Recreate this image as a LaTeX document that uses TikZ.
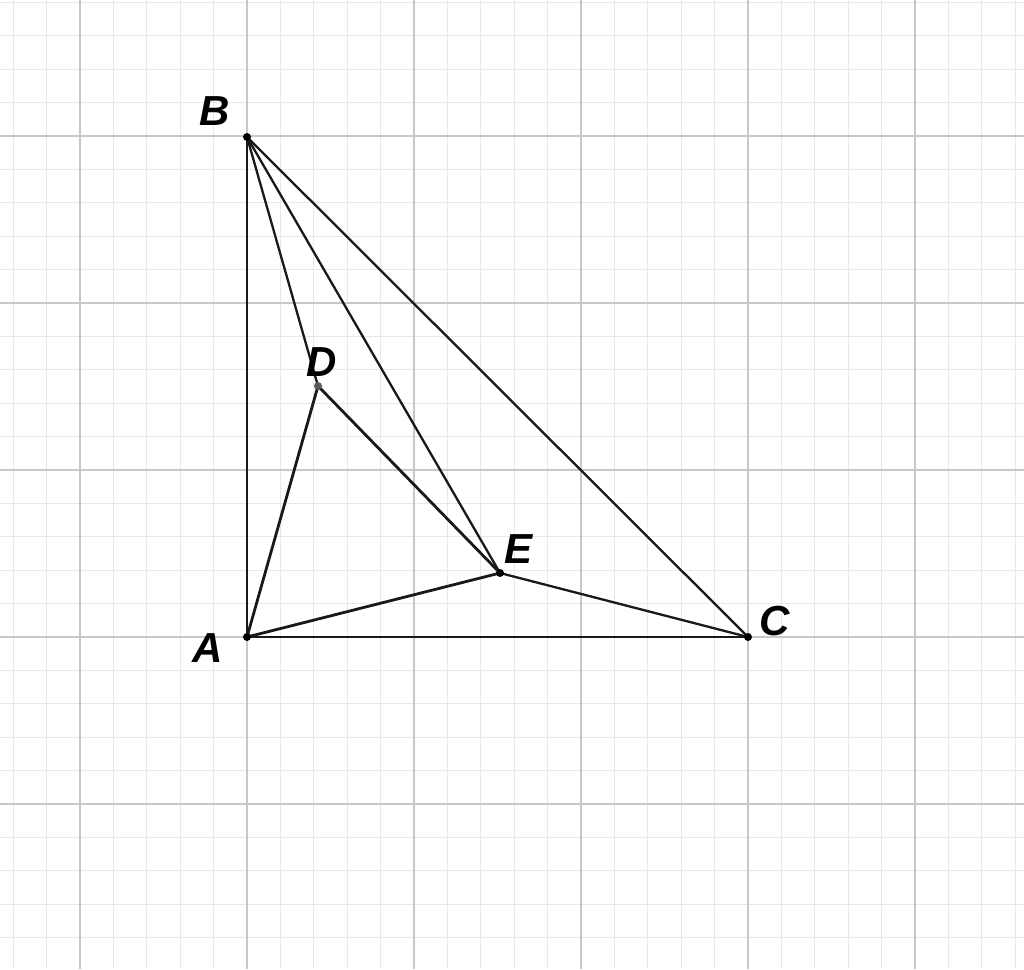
\documentclass[tikz,border=0pt]{standalone}
\usepackage{fontspec}
\setmainfont{Liberation Sans}
\begin{document}
\begin{tikzpicture}[x=1pt,y=-1pt,
  minorline/.style={draw={rgb,255:red,232;green,232;blue,232},line width=1.2pt},
  majorline/.style={draw={rgb,255:red,200;green,200;blue,200},line width=1.8pt},
  seg/.style={draw=black!90,line width=2.3pt},
  segthick/.style={draw=black!90,line width=2.8pt},
  pt/.style={circle,fill=black,inner sep=0pt,minimum size=8pt},
  lbl/.style={font=\fontsize{42}{50}\selectfont\bfseries\itshape,inner sep=0pt}]
\useasboundingbox (0,0) rectangle (1024,969);
\fill[white] (0,0) rectangle (1024,969);
% minor grid
\foreach \k in {-7,...,23} {\draw[minorline] ({247+33.4*\k},0) -- ({247+33.4*\k},969);}
\foreach \k in {-9,...,19} {\draw[minorline] (0,{637-33.4*\k}) -- (1024,{637-33.4*\k});}
% major grid
\foreach \k in {-1,0,1,2,3,4} {\draw[majorline] ({247+167*\k},0) -- ({247+167*\k},969);}
\foreach \k in {-1,0,1,2,3} {\draw[majorline] (0,{637-167*\k}) -- (1024,{637-167*\k});}
% points
\coordinate (A) at (247,637);
\coordinate (B) at (247,137);
\coordinate (C) at (748,637);
\coordinate (D) at (318,386);
\coordinate (E) at (500,573);
% segments
\draw[seg] (A) -- (B);
\draw[seg] (A) -- (C);
\draw[seg] (B) -- (C);
\draw[seg] (B) -- (D);
\draw[seg] (B) -- (E);
\draw[seg] (E) -- (C);
\draw[segthick] (A) -- (D);
\draw[segthick] (D) -- (E);
\draw[segthick] (A) -- (E);
% dots
\node[pt] (pA) at (A) {};
\node[pt] (pB) at (B) {};
\node[pt] (pC) at (C) {};
\node[pt,fill=black!65] (pD) at (D) {};
\node[pt] (pE) at (E) {};
% labels
\node[lbl] (lA) at (208,648) {A};
\node[lbl] (lB) at (215,111) {B};
\node[lbl] (lC) at (775,621) {C};
\node[lbl] (lD) at (322,362) {D};
\node[lbl] (lE) at (518,549) {E};
\end{tikzpicture}
\end{document}
